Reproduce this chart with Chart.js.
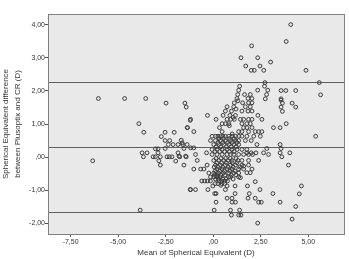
<!DOCTYPE html>
<html>
<head>
<meta charset="utf-8">
<script src="https://cdn.jsdelivr.net/npm/chart.js@4.4.1/dist/chart.umd.min.js"></script>
<style>
html, body { margin: 0; padding: 0; background: #fff; }
</style>
</head>
<body>
<canvas id="myChart" width="349" height="259"></canvas>
<script>
// Bland-Altman: mean of SE (x) vs difference Plusoptix - CR (y)
const meanSE = [
    4.08, 3.84, 2.02, 1.46, 2.34, 1.71, 2.46, 3.02, 2.00, 2.16, 2.66, 4.88, 2.72, 5.58, 5.65,
    -6.04, -4.66, -3.55, -2.48, -1.49, -1.42, -3.91, -3.65, -2.53, -2.05, -2.73, -2.53, -2.29, -6.34, -3.84, -1.21,
    -3.74, -3.48, -3.67, -3.04, -2.90, -2.90, -3.16, -3.04, -2.78, -2.86, -2.78, -2.43, -2.31, -2.17, -1.97, -1.85, -1.76, -1.54, -1.42, -1.54,
    -2.36, -2.11, -1.85, -1.68, -1.61, -1.37, -2.53, -1.35, -1.21, -1.63, -1.80, -1.45, -1.19, -1.02, -1.19, -1.02, -1.37,
    3.57, 3.82, 4.34, 3.57, 3.57, 3.64, 3.57, 3.64, 4.15, 4.34, 3.52, 3.84, 5.39, 3.52, 3.57, 3.52, 3.61, 4.03, 3.96, 4.64, 4.53, 3.52, 4.34, 4.15, 3.17, 3.14, 2.82, 2.91, 2.39,
    1.39, 1.34, 1.29, 1.25, 2.70, 2.87, 2.81, 2.74, 2.34, 1.65, 1.95, 2.04, 1.83, 1.55, 1.86, 2.04, 1.11, 1.08, 0.73,
    0.96, 0.64, 1.95, 1.69, 1.83, 2.04, 1.51, 0.52, 0.88, 1.17, 2.35, 2.56, -0.30, 0.15, 0.73, 0.92, 1.11, 0.47, 0.64, 0.82,
    1.43, 1.60, 1.86, 2.04, 1.51, 1.77, 1.95, 0.33, 0.47, 1.60, 1.77, 2.04, 1.34, 1.51, 1.86, 2.21, 2.39, 2.56,
    0.12, 0.38, 0.64, 0.82, 1.17, 1.51, 1.77, 2.13, 2.48, -0.06, 0.25, 0.51, 1.00, 1.35,
    -0.14, 0.12, 0.38, 0.64, 0.91, 1.17, 1.34, 1.69, 2.00,
    0.03, 0.29, 0.55, 0.82, 1.08, 1.34, 2.30,
    -0.06, 0.20, 0.47, 0.73, 0.99, 1.25, 1.51, 1.77,
    -0.93, -0.06, 0.20, 0.47, 0.73, 0.91, 1.08, 1.34, 1.60, 1.86, 2.07,
    2.65, 2.25, 2.00, 1.77, -0.35,
    -0.84, 0.03, 0.29, 0.55, 0.78, 0.99, 1.30, 1.51, 1.86,
    -0.32, 0.12, 0.38, 0.64, 0.91, 1.17, 1.51, 1.86, 1.60,
    -1.02, -0.66, -0.49, 0.20, 0.47, 0.73, 0.99, 1.34, 1.60, 2.04,
    -0.23, 0.03, 0.29, 0.55, 0.82, 1.08, 1.34, 1.77, 1.95,
    -0.14, 0.03, 0.20, 0.38, 0.82, 1.34, 0.91, 1.43,
    -0.60, -0.45, -0.30, -0.15, 0.30, 0.45, 0.60, 0.75, 2.21,
    -1.19, -0.93, -0.28, -0.02, 0.08, 0.15, 0.64, 0.73, 1.15, 1.15, 0.99, 0.73, 1.80, 2.46, 1.90, 1.83, 2.21, 2.39, 2.53, 0.15,
    0.05, 0.91, 1.39, 0.96, 1.34, 1.46, 2.34, 0.99, 1.17, 0.40,
    // dense core
    0.10, 0.25, 0.45, 0.60,
    0.12, 0.28, 0.50, 0.68, 1.05,
    0.08, 0.20, 0.40, 0.62, 0.95, 1.20,
    0.10, 0.35, 0.60, 0.88, 1.15,
    0.05, 0.25, 0.50, 0.78, 1.05, 1.40,
    0.20, 0.45, 0.70, 1.00, 1.25,
    0.15, 0.40, 0.65, 0.90, 1.20,
    0.10, 0.35, 0.60, 0.85, 1.10,
    0.15, 0.40, 0.70, 0.95, 1.20,
    0.25, 0.50, 0.75, 1.00, 1.25,
    0.30, 0.55, 0.85, 1.10,
    0.85, 1.05, 1.20, 1.30, 1.00
];
const diffSE = [
    4.00, 3.49, 3.36, 3.00, 3.00, 2.75, 2.75, 2.87, 2.62, 2.62, 2.62, 2.62, 2.25, 2.25, 1.88,
    1.77, 1.77, 1.77, 1.63, 1.63, 1.51, 1.01, 0.75, 0.75, 0.75, 0.62, 0.50, 0.50, -0.11, -1.60, -0.98,
    0.13, 0.13, 0.01, 0.25, 0.25, 0.13, 0.01, 0.01, 0.01, -0.11, -0.24, 0.01, 0.01, 0.01, -0.12, 0.13, 0.01, -0.24, 0.01, 0.26,
    0.38, 0.38, 0.38, 0.51, 0.38, 0.38, 0.26, 0.89, 1.11, 0.43, 0.03, 0.03, 0.28, 0.28, 1.14, 0.77, 0.89,
    2.01, 2.01, 2.01, 1.76, 1.72, 1.63, 1.51, 1.38, 1.63, 1.51, 0.89, 1.01, 0.63, 0.38, 0.26, 0.13, 0.01, 0.13, -0.24, -0.87, -1.11, -1.36, -1.49, -1.87, 0.89, -1.10, 0.26, 0.08, -0.10,
    2.14, 2.02, 1.89, 1.77, 2.14, 2.02, 1.89, 1.76, 2.02, 1.89, 1.89, 1.77, 1.77, 1.64, 1.64, 1.64, 1.64, 1.52, 1.52,
    1.39, 1.39, 1.52, 1.52, 1.39, 1.39, 1.39, 1.26, 1.26, 1.26, 1.26, 1.14, 1.26, 1.14, 1.14, 1.14, 1.14, 1.01, 1.01, 1.01,
    1.14, 1.14, 1.14, 1.14, 1.01, 1.01, 1.01, 0.89, 0.77, 0.89, 0.89, 0.89, 0.77, 0.77, 0.77, 0.77, 0.77, 0.77,
    0.63, 0.63, 0.63, 0.63, 0.63, 0.63, 0.63, 0.63, 0.63, 0.63, 0.63, 0.63, 0.63, 0.63,
    0.50, 0.50, 0.50, 0.50, 0.50, 0.50, 0.50, 0.50, 0.50,
    0.38, 0.38, 0.38, 0.38, 0.38, 0.38, 0.38,
    0.23, 0.23, 0.23, 0.23, 0.23, 0.23, 0.23, 0.23,
    0.08, 0.08, 0.08, 0.08, 0.08, 0.08, 0.08, 0.08, 0.08, 0.08, 0.08,
    0.13, 0.13, 0.13, 0.13, 0.13,
    -0.10, -0.10, -0.10, -0.10, -0.10, -0.10, -0.10, -0.10, -0.10,
    -0.24, -0.24, -0.24, -0.24, -0.24, -0.24, -0.24, -0.24, -0.27,
    -0.36, -0.36, -0.36, -0.36, -0.36, -0.36, -0.36, -0.36, -0.36, -0.36,
    -0.48, -0.48, -0.48, -0.48, -0.48, -0.48, -0.48, -0.47, -0.47,
    -0.60, -0.60, -0.60, -0.60, -0.60, -0.60, -0.60, -0.62,
    -0.72, -0.72, -0.72, -0.72, -0.72, -0.72, -0.72, -0.72, -0.74,
    -0.98, -0.98, -0.98, -0.87, -1.10, -1.10, -0.98, -0.87, -0.87, -1.10, -1.24, -1.24, -0.87, -0.98, -1.10, -1.24, -1.24, -1.36, -1.36, -1.36,
    -1.60, -1.60, -1.60, -1.75, -1.75, -1.75, -1.99, -1.36, -1.36, -0.85,
    // dense core
    -0.80, -0.80, -0.80, -0.80,
    -0.66, -0.66, -0.66, -0.66, -0.66,
    -0.54, -0.54, -0.54, -0.54, -0.54, -0.54,
    -0.42, -0.42, -0.42, -0.42, -0.42,
    -0.30, -0.30, -0.30, -0.30, -0.30, -0.30,
    -0.17, -0.17, -0.17, -0.17, -0.17,
    -0.04, -0.04, -0.04, -0.04, -0.04,
    0.17, 0.17, 0.17, 0.17, 0.17,
    0.31, 0.31, 0.31, 0.31, 0.31,
    0.44, 0.44, 0.44, 0.44, 0.44,
    0.56, 0.56, 0.56, 0.56,
    0.95, 1.20, 1.45, 1.70, 0.70
];
// upper limit, mean difference, lower limit
const refLines = [2.26, 0.30, -1.65];
const xTicks = [-7.5, -5, -2.5, 0, 2.5, 5];
const yTicks = [-2, -1, 0, 1, 2, 3, 4];

const points = meanSE.map((x, i) => ({ x: x, y: diffSE[i] }));

function fmt(v) {
    let s = Math.abs(v).toFixed(2).replace('.', ',');
    if (s.charAt(0) === '0') s = s.slice(1);
    return (v < 0 ? '-' : '') + s;
}

const plotBg = {
    id: 'plotBg',
    beforeDraw(chart) {
        const { ctx, chartArea: a } = chart;
        ctx.save();
        ctx.fillStyle = '#e9e9e9';
        ctx.fillRect(a.left, a.top, a.right - a.left, a.bottom - a.top);
        ctx.restore();
    },
    beforeDatasetsDraw(chart) {
        const { ctx, chartArea: a, scales } = chart;
        ctx.save();
        ctx.strokeStyle = '#5e5e5e';
        ctx.lineWidth = 1;
        refLines.forEach(v => {
            const y = Math.round(scales.y.getPixelForValue(v)) + 0.5;
            ctx.beginPath();
            ctx.moveTo(a.left, y);
            ctx.lineTo(a.right, y);
            ctx.stroke();
        });
        ctx.restore();
    },
    afterDraw(chart) {
        const { ctx, chartArea: a } = chart;
        ctx.save();
        ctx.strokeStyle = '#808080';
        ctx.lineWidth = 1;
        ctx.strokeRect(Math.round(a.left) + 0.5, Math.round(a.top) + 0.5,
            Math.round(a.right - a.left), Math.round(a.bottom - a.top));
        ctx.restore();
    }
};

const tickFont = { family: 'Liberation Sans', size: 7 };
const titleFont = { family: 'Liberation Sans', size: 8, lineHeight: 1.45 };

const config = {
    type: 'scatter',
    data: {
        datasets: [{
            label: 'SE difference',
            data: points,
            pointStyle: 'circle',
            pointRadius: 1.9,
            borderWidth: 1,
            borderColor: '#3a3a3a',
            backgroundColor: 'rgba(0,0,0,0)'
        }]
    },
    options: {
        responsive: false,
        animation: false,
        layout: { padding: { top: 14, right: 3, left: 0, bottom: 0 } },
        plugins: { legend: { display: false }, tooltip: { enabled: false } },
        scales: {
            x: {
                type: 'linear',
                min: -8.69,
                max: 6.88,
                afterBuildTicks: s => { s.ticks = xTicks.map(v => ({ value: v })); },
                afterFit: s => { s.height = 25; },
                grid: { drawOnChartArea: false, drawTicks: true, tickLength: 3, color: '#555' },
                border: { display: true, color: '#808080' },
                ticks: { padding: 1, font: tickFont, color: '#333', maxRotation: 0, autoSkip: false, callback: v => fmt(v) },
                title: { display: true, text: 'Mean of Spherical Equivalent (D)', font: titleFont, color: '#333', padding: 0 }
            },
            y: {
                type: 'linear',
                min: -2.32,
                max: 4.32,
                afterBuildTicks: s => { s.ticks = yTicks.map(v => ({ value: v })); },
                afterFit: s => { s.width = 48; },
                grid: { drawOnChartArea: false, drawTicks: true, tickLength: 3, color: '#555' },
                border: { display: true, color: '#808080' },
                ticks: { padding: 0, font: tickFont, color: '#333', autoSkip: false, callback: v => fmt(v) },
                title: {
                    display: true,
                    text: ['Spherical Equivalent difference', 'between Plusoptix and CR (D)'],
                    font: titleFont, color: '#333', padding: 0
                }
            }
        }
    },
    plugins: [plotBg]
};

const myChart = new Chart(document.getElementById('myChart'), config);
</script>
</body>
</html>
